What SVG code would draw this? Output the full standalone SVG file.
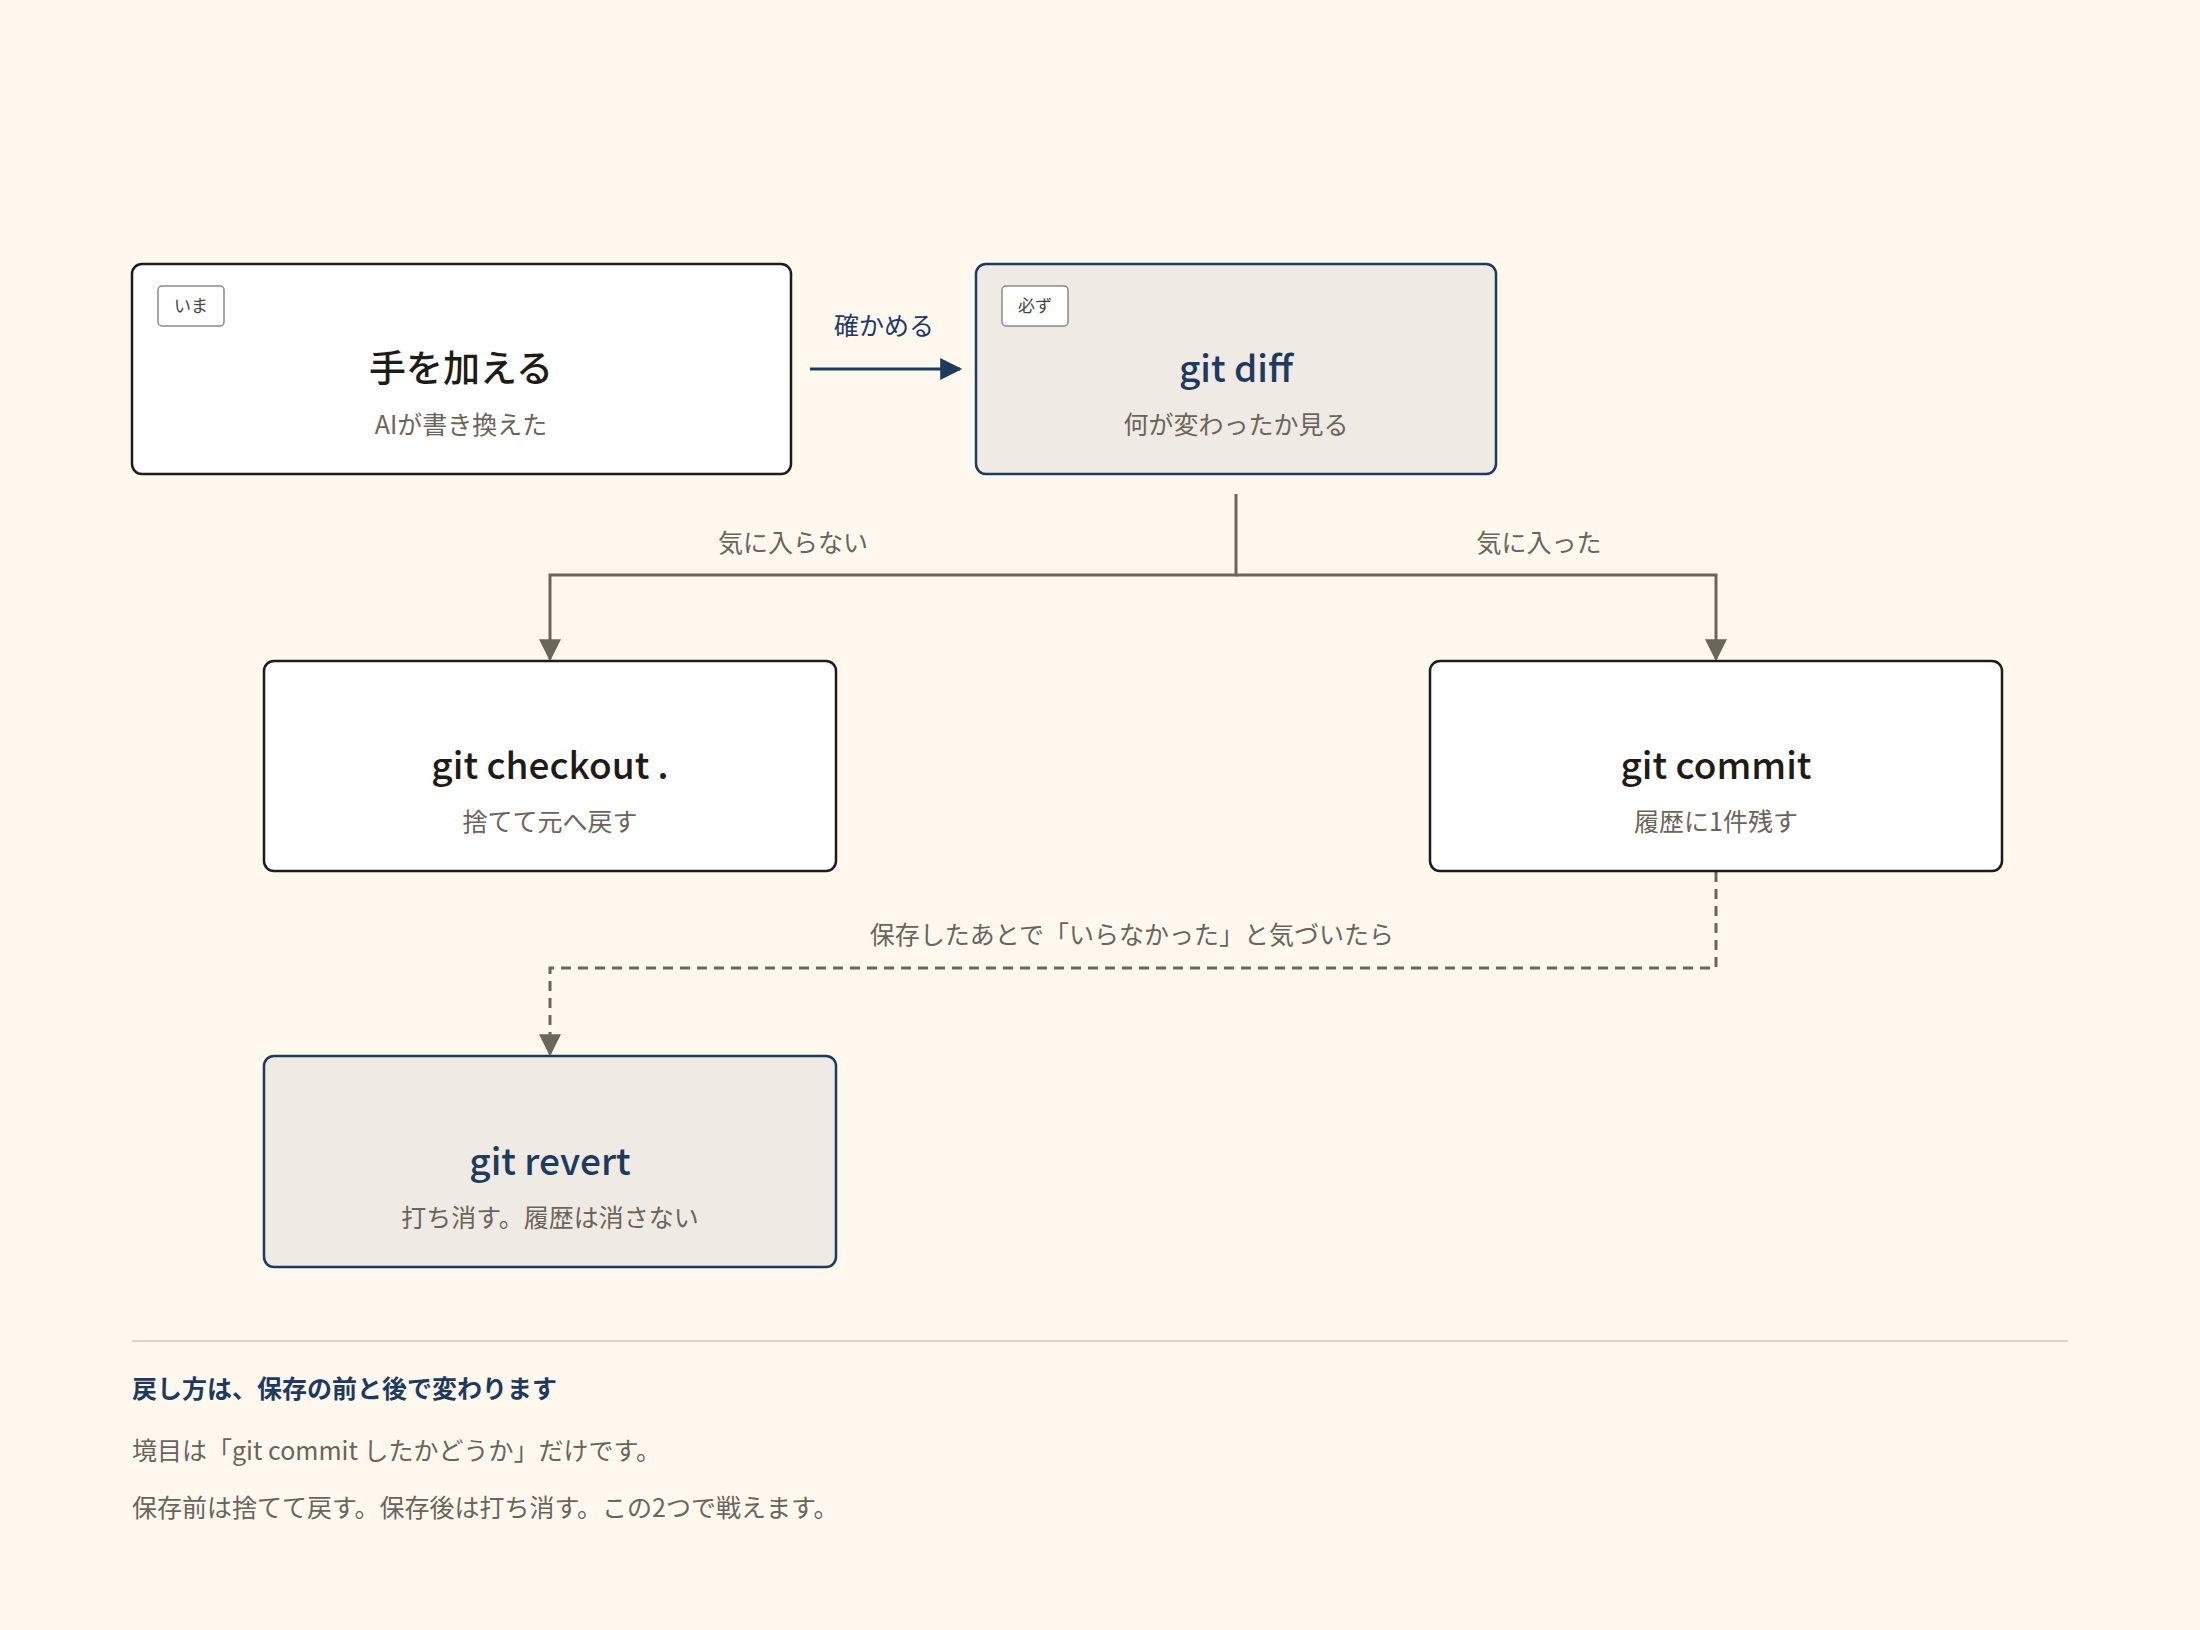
<svg xmlns="http://www.w3.org/2000/svg" width="2200" height="1630" viewBox="0 0 2200 1630">
<style>
text{font-family:"Noto Sans CJK JP","Noto Sans",sans-serif}
.box{fill:#fff;stroke:#1f1b16;stroke-width:2.5}
.hl{fill:#efebe4;stroke:#1e3a5f;stroke-width:2.5}
.t{font-size:37px;text-anchor:middle;fill:#1f1b16;font-weight:500}
.th{font-size:37px;text-anchor:middle;fill:#1e3a5f;font-weight:500}
.s{font-size:25px;text-anchor:middle;fill:#6b645a}
.badge{fill:#fff;stroke:#8a8a8a;stroke-width:1.5}
.bt{font-size:17px;text-anchor:middle;fill:#444}
.el{font-size:25px;text-anchor:middle;fill:#6b645a}
.ln{fill:none;stroke:#6b665a;stroke-width:3}
</style>
<defs>
<marker id="ag" markerWidth="10" markerHeight="10" refX="9" refY="5" orient="auto" markerUnits="userSpaceOnUse" viewBox="0 0 10 10"><path d="M0,0L10,5L0,10z" fill="#6b665a"/></marker>
<marker id="ab" viewBox="0 0 10 10" refX="9" refY="5" markerWidth="26" markerHeight="22" orient="auto" markerUnits="userSpaceOnUse"><path d="M0,0L10,5L0,10z" fill="#1e3a5f"/></marker>
<marker id="ag2" viewBox="0 0 10 10" refX="9" refY="5" markerWidth="24" markerHeight="22" orient="auto" markerUnits="userSpaceOnUse"><path d="M0,0L10,5L0,10z" fill="#6b665a"/></marker>
</defs>
<rect width="2200" height="1630" fill="#fef8ee"/>
<g id="connectors">
<line x1="810" y1="369" x2="960" y2="369" stroke="#1e3a5f" stroke-width="3" marker-end="url(#ab)"/>
<text x="884" y="335" class="el" fill="#1e3a5f" style="fill:#1e3a5f">確かめる</text>
<path class="ln" d="M1236,494V575H550V659" marker-end="url(#ag2)"/>
<path class="ln" d="M1236,575H1716V659" marker-end="url(#ag2)"/>
<text x="793" y="552" class="el">気に入らない</text>
<text x="1539" y="552" class="el">気に入った</text>
<path class="ln" stroke-dasharray="10,7" d="M1716,872V968H550V1054" marker-end="url(#ag2)"/>
<text x="1132" y="944" class="el">保存したあとで「いらなかった」と気づいたら</text>
</g>
<g id="n1">
<rect x="132" y="264" width="659" height="210" rx="10" class="box"/>
<rect x="158" y="286" width="66" height="40" rx="4" class="badge"/>
<text x="191" y="312" class="bt">いま</text>
<text x="461" y="382" class="t">手を加える</text>
<text x="461" y="434" class="s">AIが書き換えた</text>
</g>
<g id="n2">
<rect x="976" y="264" width="520" height="210" rx="10" class="hl"/>
<rect x="1002" y="286" width="66" height="40" rx="4" class="badge"/>
<text x="1035" y="312" class="bt">必ず</text>
<text x="1236" y="382" class="th">git diff</text>
<text x="1236" y="434" class="s">何が変わったか見る</text>
</g>
<g id="n3">
<rect x="264" y="661" width="572" height="210" rx="10" class="box"/>
<text x="550" y="779" class="t">git checkout .</text>
<text x="550" y="831" class="s">捨てて元へ戻す</text>
</g>
<g id="n4">
<rect x="1430" y="661" width="572" height="210" rx="10" class="box"/>
<text x="1716" y="779" class="t">git commit</text>
<text x="1716" y="831" class="s">履歴に1件残す</text>
</g>
<g id="n5">
<rect x="264" y="1056" width="572" height="211" rx="10" class="hl"/>
<text x="550" y="1175" class="th">git revert</text>
<text x="550" y="1227" class="s">打ち消す。履歴は消さない</text>
</g>
<g id="footer">
<line x1="132" y1="1341" x2="2068" y2="1341" stroke="#e0d6c8" stroke-width="2"/>
<text x="132" y="1398" font-size="25" font-weight="700" fill="#1e3a5f">戻し方は、保存の前と後で変わります</text>
<text x="132" y="1460" font-size="25" fill="#6b645a">境目は「git commit したかどうか」だけです。</text>
<text x="132" y="1517" font-size="25" fill="#6b645a">保存前は捨てて戻す。保存後は打ち消す。この2つで戦えます。</text>
</g>
</svg>
